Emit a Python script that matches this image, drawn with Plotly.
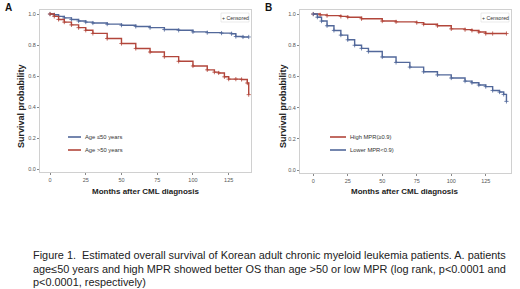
import plotly.graph_objects as go

# Panel A data (months, survival)
a_young_t = [0, 3, 6, 10, 15, 20, 25, 30, 40, 50, 60, 70, 80, 90, 100, 110, 120, 127, 130, 135, 139]
a_young_s = [1.0, 0.995, 0.985, 0.975, 0.965, 0.955, 0.948, 0.942, 0.935, 0.928, 0.92, 0.912, 0.9, 0.895, 0.885, 0.88, 0.877, 0.873, 0.855, 0.852, 0.852]
a_old_t = [0, 3, 6, 10, 15, 20, 25, 30, 40, 50, 60, 70, 80, 90, 100, 110, 115, 118, 122, 125, 130, 134, 138, 139]
a_old_s = [1.0, 0.985, 0.965, 0.948, 0.93, 0.912, 0.895, 0.875, 0.842, 0.81, 0.778, 0.755, 0.725, 0.695, 0.665, 0.64, 0.625, 0.62, 0.595, 0.58, 0.58, 0.578, 0.555, 0.48]

# Panel B data
b_high_t = [0, 5, 10, 20, 25, 35, 50, 60, 75, 80, 90, 100, 110, 115, 120, 125, 130, 140]
b_high_s = [1.0, 0.995, 0.99, 0.985, 0.98, 0.97, 0.955, 0.95, 0.945, 0.935, 0.925, 0.905, 0.9, 0.895, 0.885, 0.875, 0.875, 0.875]
b_low_t = [0, 3, 6, 10, 15, 20, 25, 30, 35, 40, 50, 60, 70, 80, 90, 100, 110, 115, 120, 125, 130, 135, 138, 140]
b_low_s = [1.0, 0.98, 0.955, 0.925, 0.895, 0.865, 0.835, 0.8, 0.78, 0.76, 0.725, 0.69, 0.66, 0.63, 0.61, 0.59, 0.57, 0.56, 0.545, 0.535, 0.51, 0.5, 0.485, 0.44]

x_ticks = [0, 25, 50, 75, 100, 125]
y_ticks = [0.0, 0.2, 0.4, 0.6, 0.8, 1.0]
y_ticklabels = ["0.0", "0.2", "0.4", "0.6", "0.8", "1.0"]

legend_a = ["Age \u226450 years", "Age >50 years"]
legend_b = ["High MPR(\u22650.9)", "Lower MPR<0.9)"]

caption_lines = [
    "Figure 1.  Estimated overall survival of Korean adult chronic myeloid leukemia patients. A. patients",
    "age\u226450 years and high MPR showed better OS than age >50 or low MPR (log rank, p<0.0001 and",
    "p<0.0001, respectively)",
]

BLUE = "#52689a"
RED = "#b2463b"

fig = go.Figure()

def add_curve(t, s, color, xa, ya):
    fig.add_trace(go.Scatter(x=t, y=s, mode="lines+markers", line=dict(color=color, width=1.4, shape="hv"),
                             marker=dict(symbol="cross-thin", size=3, line=dict(color=color, width=0.8)),
                             xaxis=xa, yaxis=ya, showlegend=False, hoverinfo="skip"))

add_curve(a_young_t, a_young_s, BLUE, "x", "y")
add_curve(a_old_t, a_old_s, RED, "x", "y")
add_curve(b_high_t, b_high_s, RED, "x2", "y2")
add_curve(b_low_t, b_low_s, BLUE, "x2", "y2")

W, H = 520, 289
def px(x): return x / W
def py(y): return 1 - y / H

axis_common = dict(showgrid=False, zeroline=False, showline=True, mirror=True, linecolor="#d0d0d0", linewidth=1,
                   ticks="outside", ticklen=2, tickcolor="#888", tickfont=dict(size=5.5, color="#555", family="Arial"))

fig.update_layout(
    width=W, height=H, margin=dict(l=0, r=0, t=0, b=0),
    plot_bgcolor="white", paper_bgcolor="white",
    xaxis=dict(domain=[px(40), px(251)], range=[-7, 140.6], tickvals=x_ticks, anchor="y", **axis_common),
    yaxis=dict(domain=[py(172), py(10)], range=[-0.019, 1.026], tickvals=y_ticks, ticktext=y_ticklabels, anchor="x", **axis_common),
    xaxis2=dict(domain=[px(300), px(511)], range=[-9.6, 143.3], tickvals=x_ticks, anchor="y2", **axis_common),
    yaxis2=dict(domain=[py(173), py(10)], range=[-0.019, 1.026], tickvals=y_ticks, ticktext=y_ticklabels, anchor="x2", **axis_common),
)

ann = []
def text(x, y, s, size, bold=False, color="#222", xanchor="left", angle=0, family="Arial"):
    ann.append(dict(x=px(x), y=py(y), xref="paper", yref="paper", text=f"<b>{s}</b>" if bold else s,
                    showarrow=False, xanchor=xanchor, yanchor="middle", textangle=angle,
                    font=dict(size=size, color=color, family=family)))

text(8, 8, "A", 10, bold=True, color="#111", xanchor="center")
text(268, 8, "B", 10, bold=True, color="#111", xanchor="center")
text(21, 106, "Survival probability", 9, bold=True, xanchor="center", angle=-90)
text(283, 106, "Survival probability", 9, bold=True, xanchor="center", angle=-90)
text(146, 191, "Months after CML diagnosis", 8, bold=True, xanchor="center")
text(405, 191, "Months after CML diagnosis", 8, bold=True, xanchor="center")

# legends
for (x0, x1, y0, col, lab) in [(68, 81, 137, BLUE, legend_a[0]), (68, 81, 150, RED, legend_a[1]),
                               (330, 346, 137, RED, legend_b[0]), (330, 346, 150, BLUE, legend_b[1])]:
    fig.add_shape(type="line", xref="paper", yref="paper", x0=px(x0), x1=px(x1), y0=py(y0), y1=py(y0),
                  line=dict(color=col, width=1.6))
    text(x1 + 2, y0, lab, 5.8, color="#333")

# censored boxes
for (bx0, bx1) in [(221, 249), (481, 509)]:
    fig.add_shape(type="rect", xref="paper", yref="paper", x0=px(bx0), x1=px(bx1), y0=py(22), y1=py(13),
                  line=dict(color="#e2e2e2", width=0.7), fillcolor="white")
    text((bx0 + bx1) / 2, 17.5, "+ Censored", 5.2, color="#333", xanchor="center")

# caption
for i, line in enumerate(caption_lines):
    text(31, 255 + i * 13.5, line, 10.9, color="#222", family="Liberation Sans")

fig.update_layout(annotations=ann)
fig.write_html("out.html", config={"displayModeBar": False},
               post_script="document.body.style.margin='0';document.body.style.overflow='hidden';")
